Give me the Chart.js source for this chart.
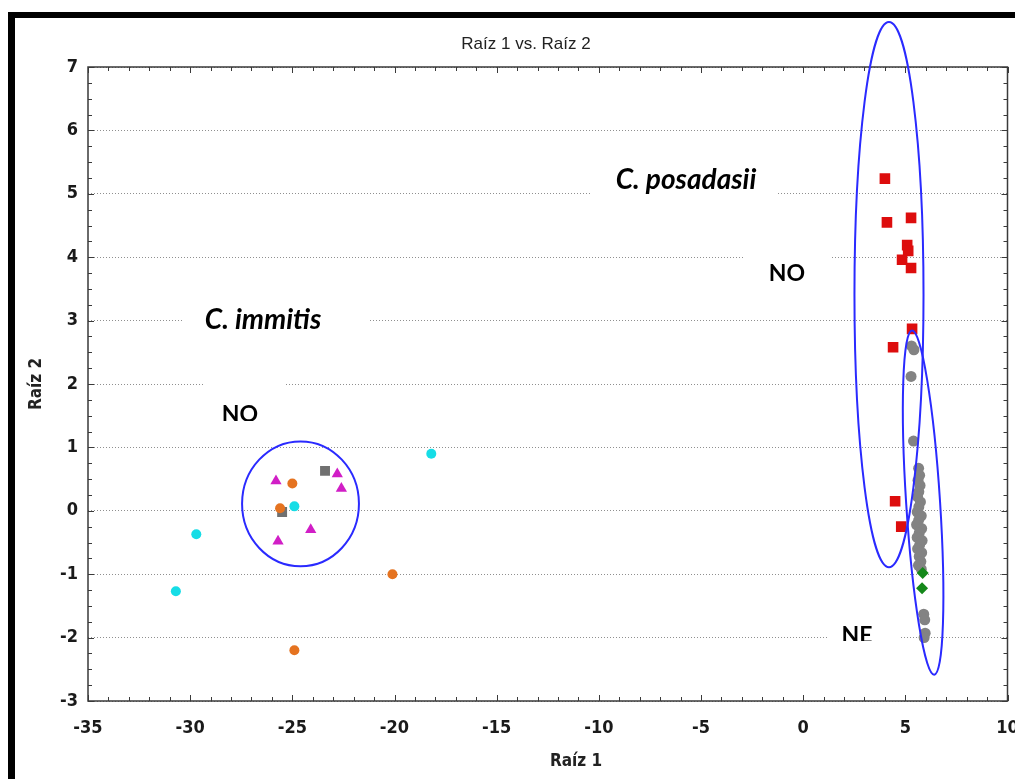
<!DOCTYPE html>
<html>
<head>
<meta charset="utf-8">
<script src="https://cdn.jsdelivr.net/npm/chart.js@4.4.0/dist/chart.umd.min.js"></script>
<style>
html, body { margin: 0; padding: 0; background: #fff; }
</style>
</head>
<body>
<canvas id="myChart" width="1015" height="779"></canvas>
<script>
// values (Raíz 1, Raíz 2)
const noPosadasii = [
    [4.0, 5.24], [4.1, 4.55], [5.28, 4.62], [5.09, 4.19], [5.14, 4.1], [4.84, 3.96],
    [5.28, 3.83], [5.33, 2.87], [4.4, 2.58], [4.5, 0.15], [4.8, -0.25]
];
const nePosadasii = [
    [5.3, 2.6], [5.42, 2.54], [5.28, 2.12], [5.4, 1.1],
    [5.65, 0.67], [5.7, 0.56], [5.62, 0.48], [5.72, 0.4], [5.66, 0.3], [5.6, 0.22],
    [5.74, 0.14], [5.66, 0.06], [5.58, -0.02], [5.78, -0.08], [5.65, -0.15], [5.55, -0.22],
    [5.8, -0.28], [5.68, -0.35], [5.58, -0.42], [5.82, -0.47], [5.7, -0.54], [5.6, -0.6],
    [5.8, -0.66], [5.68, -0.72], [5.76, -0.8], [5.64, -0.86], [5.78, -0.92],
    [5.9, -1.63], [5.95, -1.72], [5.97, -1.93], [5.92, -2.0]
];
const greenPoints = [[5.85, -0.98], [5.82, -1.22]];
const magentaPoints = [[-25.8, 0.47], [-22.8, 0.58], [-22.6, 0.35], [-24.1, -0.3], [-25.7, -0.48]];
const orangePoints = [[-25.0, 0.43], [-25.6, 0.04], [-20.1, -1.0], [-24.9, -2.2]];
const cyanPoints = [[-24.9, 0.07], [-29.7, -0.37], [-30.7, -1.27], [-18.2, 0.9]];
const graySquares = [[-23.4, 0.63], [-25.5, -0.02]];

const xMin = -35, xMax = 10, xStep = 5;
const yMin = -3, yMax = 7, yStep = 1;

// group outlines in axis units: centre, half widths, tilt in degrees
const groupEllipses = [
    {cx: -24.6, cy: 0.11, rx: 2.86, ry: 0.985, rot: 0},
    {cx: 4.2, cy: 3.41, rx: 1.69, ry: 4.30, rot: 0},
    {cx: 5.87, cy: 0.13, rx: 0.83, ry: 2.72, rot: -3.7}
];

// word text boxes laid over the plot (pixels)
const textBoxes = [
    {text: 'C. posadasii', italic: true, size: 28, box: [592, 158, 186, 46], tx: 686, ty: 180},
    {text: 'C. immitis', italic: true, size: 28, box: [182, 300, 186, 40], tx: 263, ty: 320},
    {text: 'NO', italic: false, size: 23, box: [203, 378, 82, 44], tx: 240, ty: 415, clipBottom: 421},
    {text: 'NO', italic: false, size: 23, box: [745, 256, 85, 38], tx: 787, ty: 274},
    {text: 'NE', italic: false, size: 23, box: [828, 614, 72, 28], tx: 857, ty: 636, clipBottom: 641}
];

const narrow = "'Liberation Sans Narrow', 'DejaVu Sans Condensed', 'Arial Narrow', sans-serif";

const toXY = arr => arr.map(p => ({x: p[0], y: p[1]}));

const overlayPlugin = {
    id: 'overlay',
    beforeDraw(chart) {
        const ctx = chart.ctx;
        ctx.save();
        ctx.fillStyle = '#fff';
        ctx.fillRect(0, 0, chart.width, chart.height);
        ctx.restore();
    },
    beforeDatasetsDraw(chart) {
        const ctx = chart.ctx;
        ctx.save();
        textBoxes.forEach(t => {
            ctx.fillStyle = '#fff';
            ctx.fillRect(t.box[0], t.box[1], t.box[2], t.box[3]);
            ctx.save();
            if (t.clipBottom) {
                ctx.beginPath();
                ctx.rect(t.box[0], t.box[1], t.box[2], t.clipBottom - t.box[1]);
                ctx.clip();
            }
            ctx.fillStyle = '#000';
            ctx.font = (t.italic ? 'italic ' : '') + 'bold ' + t.size + 'px Lato, sans-serif';
            ctx.textAlign = 'center';
            ctx.textBaseline = 'middle';
            ctx.fillText(t.text, t.tx, t.ty);
            ctx.restore();
        });
        ctx.restore();
    },
    afterDatasetsDraw(chart) {
        const ctx = chart.ctx;
        const xs = chart.scales.x, ys = chart.scales.y;
        const a = chart.chartArea;
        ctx.save();
        // plot frame
        ctx.strokeStyle = '#3a3a3a';
        ctx.lineWidth = 1.5;
        ctx.strokeRect(a.left, a.top, a.right - a.left, a.bottom - a.top);
        // minor ticks, pointing inwards
        ctx.lineWidth = 1;
        ctx.beginPath();
        for (let v = xMin; v <= xMax; v++) {
            const px = Math.round(xs.getPixelForValue(v)) + 0.5;
            const len = v % xStep === 0 ? 6 : 4;
            ctx.moveTo(px, a.bottom); ctx.lineTo(px, a.bottom - len);
            ctx.moveTo(px, a.top); ctx.lineTo(px, a.top + len);
        }
        for (let v = yMin; v <= yMax; v += 0.25) {
            const py = Math.round(ys.getPixelForValue(v)) + 0.5;
            const len = Number.isInteger(v) ? 6 : 4;
            ctx.moveTo(a.left, py); ctx.lineTo(a.left + len, py);
            ctx.moveTo(a.right, py); ctx.lineTo(a.right - len, py);
        }
        ctx.stroke();
        // group ellipses
        ctx.strokeStyle = '#2a2aff';
        ctx.lineWidth = 2;
        groupEllipses.forEach(e => {
            const cx = xs.getPixelForValue(e.cx), cy = ys.getPixelForValue(e.cy);
            const rx = Math.abs(xs.getPixelForValue(e.cx + e.rx) - cx);
            const ry = Math.abs(ys.getPixelForValue(e.cy + e.ry) - cy);
            ctx.beginPath();
            ctx.ellipse(cx, cy, rx, ry, e.rot * Math.PI / 180, 0, Math.PI * 2);
            ctx.stroke();
        });
        ctx.restore();
    },
    afterDraw(chart) {
        const ctx = chart.ctx;
        ctx.save();
        ctx.fillStyle = '#222';
        ctx.textAlign = 'center';
        ctx.textBaseline = 'middle';
        ctx.font = "17px 'Liberation Sans', Arial, sans-serif";
        ctx.fillText('Raíz 1 vs. Raíz 2', 526, 44);
        ctx.font = 'bold 17px ' + narrow;
        ctx.fillText('Raíz 1', 576, 762);
        ctx.translate(37, 384);
        ctx.rotate(-Math.PI / 2);
        ctx.fillText('Raíz 2', 0, 0);
        ctx.restore();
        // black page frame
        ctx.save();
        ctx.fillStyle = '#000';
        ctx.fillRect(8, 12, 7, chart.height - 12);
        ctx.fillRect(8, 12, chart.width - 8, 6);
        ctx.restore();
    }
};

const config = {
    type: 'scatter',
    data: {
        datasets: [
            {label: 'orange', data: toXY(orangePoints), pointStyle: 'circle', pointRadius: 5,
             backgroundColor: '#e57320', borderColor: '#e57320'},
            {label: 'cyan', data: toXY(cyanPoints), pointStyle: 'circle', pointRadius: 5,
             backgroundColor: '#16dde6', borderColor: '#16dde6'},
            {label: 'magenta', data: toXY(magentaPoints), pointStyle: 'triangle', pointRadius: 6.5,
             backgroundColor: '#d11ec6', borderColor: '#d11ec6'},
            {label: 'gray squares', data: toXY(graySquares), pointStyle: 'rect', pointRadius: 7,
             backgroundColor: '#707070', borderColor: '#707070'},
            {label: 'NO', data: toXY(noPosadasii), pointStyle: 'rect', pointRadius: 7.5,
             backgroundColor: '#dd0d0d', borderColor: '#dd0d0d'},
            {label: 'green', data: toXY(greenPoints), pointStyle: 'rectRot', pointRadius: 6,
             backgroundColor: '#14881a', borderColor: '#14881a'},
            {label: 'NE', data: toXY(nePosadasii), pointStyle: 'circle', pointRadius: 5.5,
             backgroundColor: '#838383', borderColor: '#838383'}
        ]
    },
    options: {
        responsive: false,
        animation: false,
        layout: {
            padding: {left: 0, right: 7, top: 67, bottom: 0}
        },
        elements: {
            point: {borderWidth: 0, hoverRadius: 5}
        },
        scales: {
            x: {
                type: 'linear',
                min: xMin,
                max: xMax,
                ticks: {
                    stepSize: xStep,
                    padding: 9,
                    color: '#1a1a1a',
                    font: {family: narrow, size: 18, weight: 'bold'}
                },
                grid: {display: false},
                border: {display: false},
                afterFit(scale) {
                    scale.height = 78;
                    scale.paddingLeft = 0;
                    scale.paddingRight = 0;
                }
            },
            y: {
                type: 'linear',
                min: yMin,
                max: yMax,
                ticks: {
                    stepSize: yStep,
                    padding: 10,
                    color: '#1a1a1a',
                    font: {family: narrow, size: 18, weight: 'bold'}
                },
                grid: {
                    drawTicks: false,
                    color: '#8f8f8f',
                    lineWidth: 1
                },
                border: {display: false, dash: [1, 2]},
                afterFit(scale) {
                    scale.width = 88;
                    scale.paddingTop = 0;
                    scale.paddingBottom = 0;
                }
            }
        },
        plugins: {
            legend: {display: false},
            title: {display: false},
            tooltip: {enabled: false}
        }
    },
    plugins: [overlayPlugin]
};

const myChart = document.getElementById('myChart');
const chart = new Chart(myChart, config);
</script>
</body>
</html>
